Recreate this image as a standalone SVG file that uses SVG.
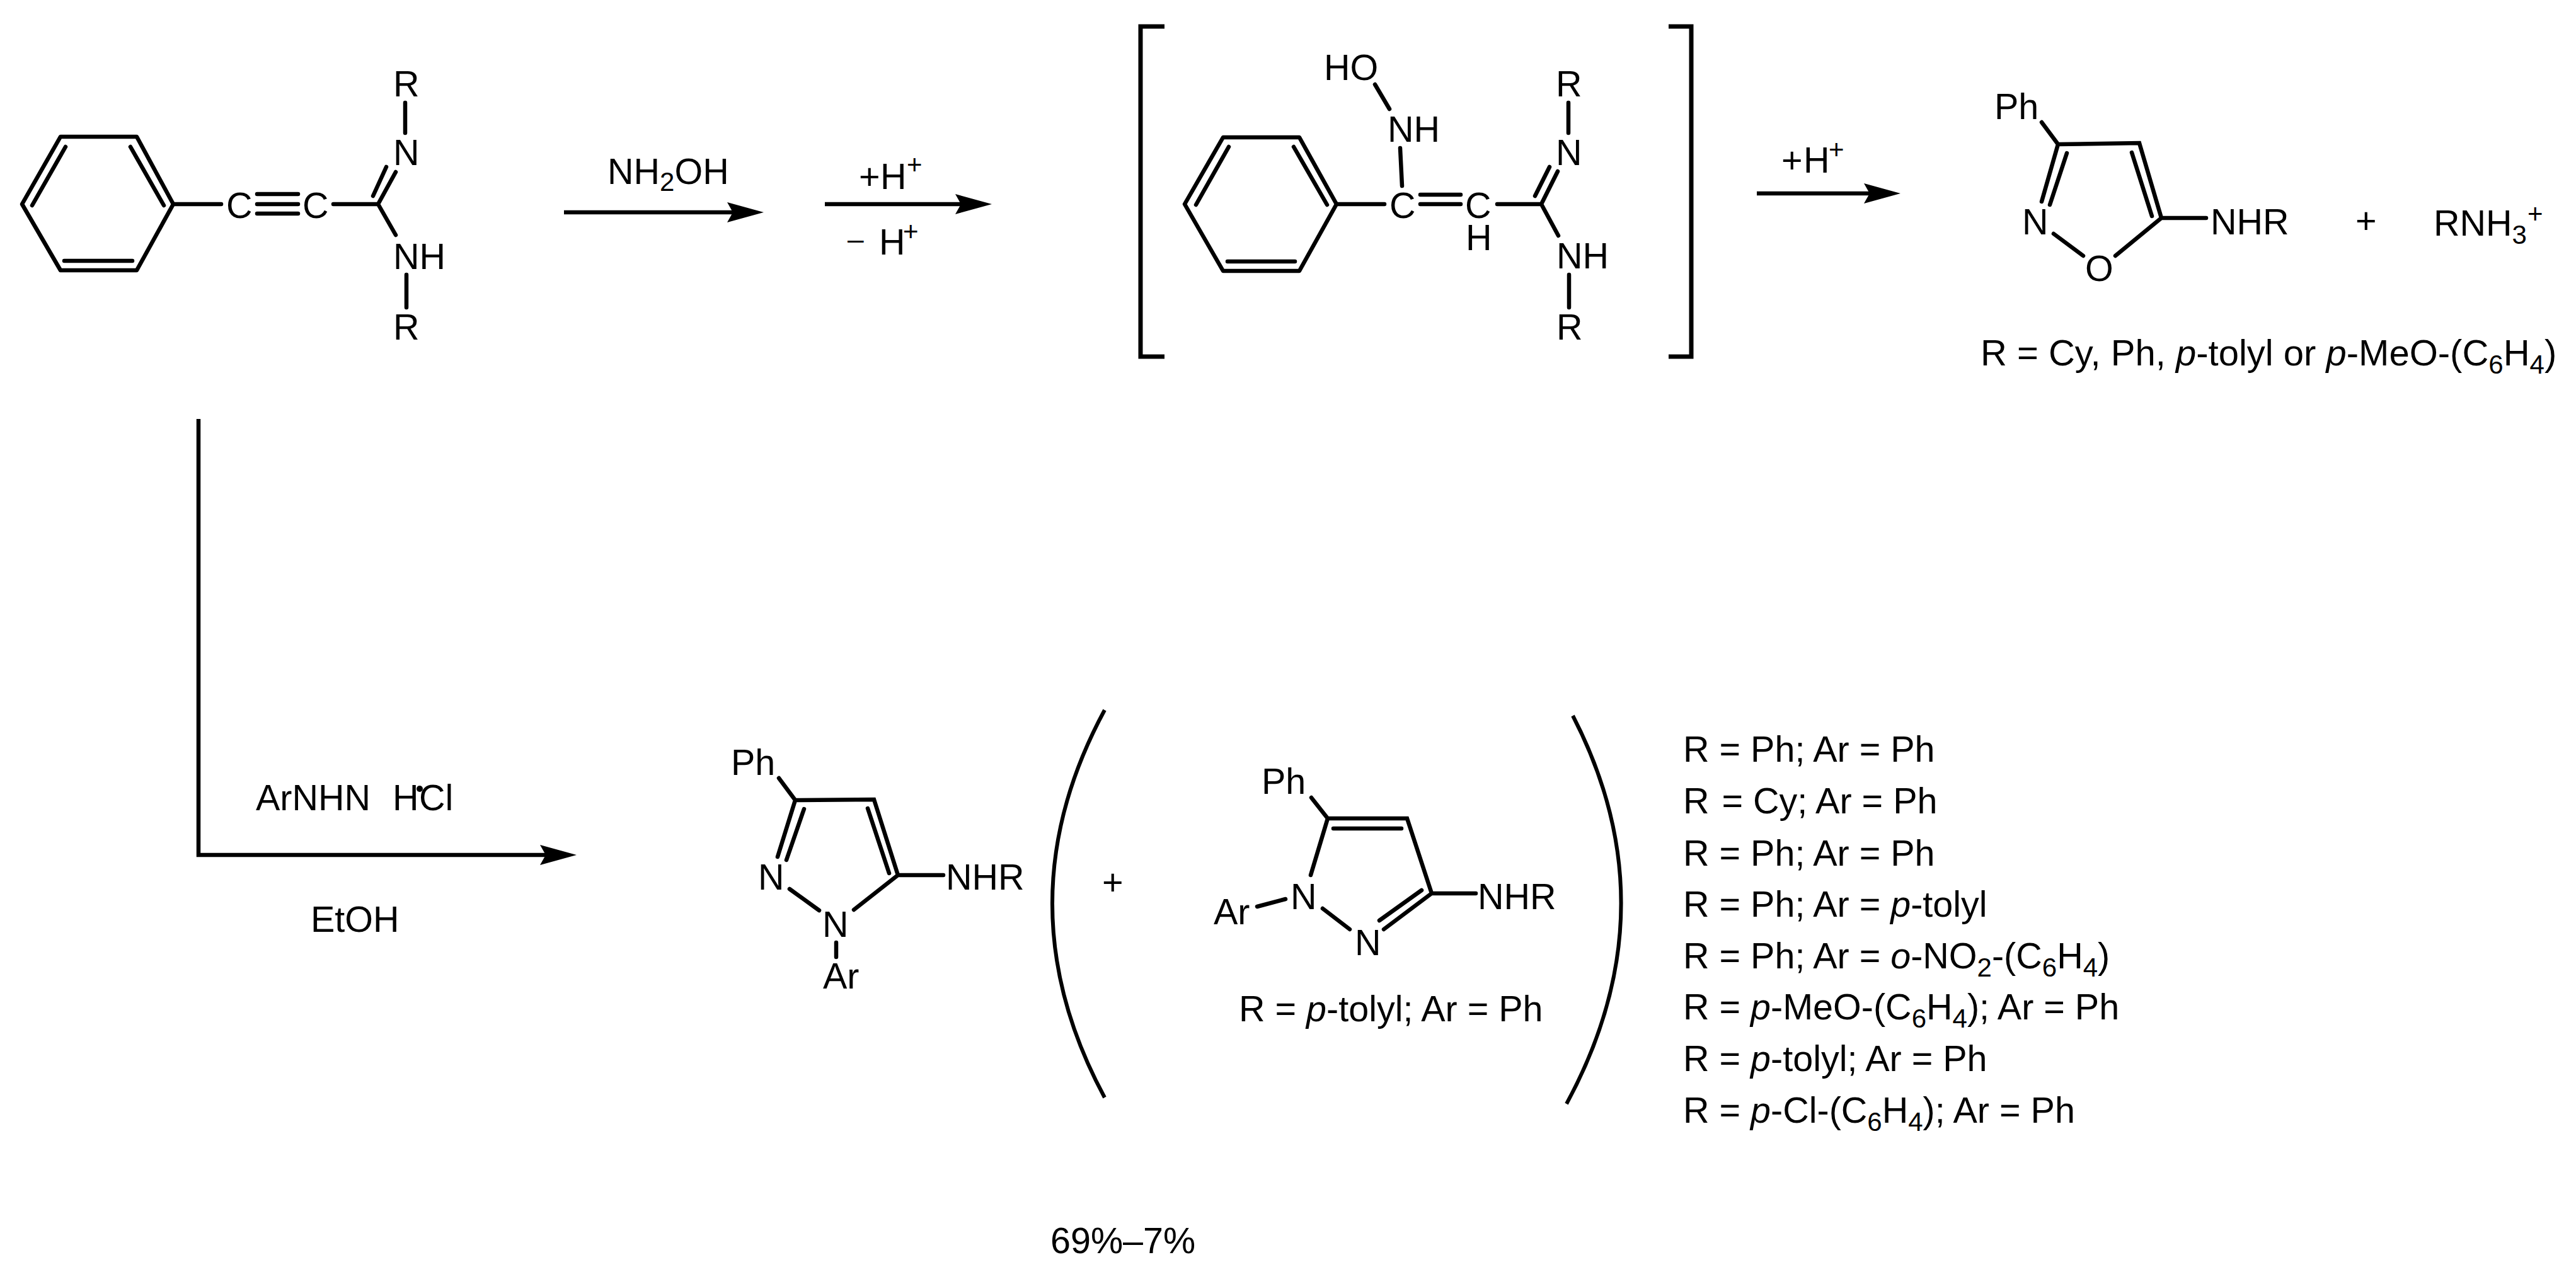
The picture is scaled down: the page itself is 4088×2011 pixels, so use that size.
<svg xmlns="http://www.w3.org/2000/svg" width="4088" height="2011" viewBox="0 0 4088 2011">
<style>
text{font-family:"Liberation Sans",Arial,sans-serif;font-size:57.5px;fill:#000}
.sub{font-size:42px}
.i{font-style:italic}
.b{fill:none;stroke:#000;stroke-width:6.5;stroke-linecap:round;stroke-linejoin:miter}
.br{fill:none;stroke:#000;stroke-width:7;stroke-linecap:butt;stroke-linejoin:miter}
.a{fill:none;stroke:#000;stroke-width:6.5;stroke-linejoin:miter;marker-end:url(#head)}
</style>
<defs>
<marker id="head" markerUnits="userSpaceOnUse" markerWidth="58" markerHeight="32" viewBox="0 0 58 32" refX="9" refY="16" orient="auto"><path d="M0 0L58 16L0 32L9 16Z" fill="#000"/></marker>
</defs>
<rect width="4088" height="2011" fill="#fff"/>
<g id="connectors">
<path class="a" d="M895 337H1163"/>
<path class="a" d="M1309 324H1525"/>
<path class="a" d="M2788 307H2967"/>
<path class="a" d="M315 665V1357H866"/>
</g>
<g id="reactant">
<path class="b" d="M35 324L96 217H217L275 324L217 429H96Z" style="stroke-linejoin:round"/>
<path class="b" d="M104 233L51 326M207 233L260 326M102 414H210M275 324H351M408 308H473M408 324H473M408 339H473M529 324H600M600 324L628 273M592 311L613 265M600 324L628 373M643 163V211M645 436V488"/>
<text x="359" y="346">C</text><text x="480" y="346">C</text>
<text x="624" y="153">R</text><text x="624" y="262">N</text><text x="624" y="427">NH</text><text x="624" y="539">R</text>
</g>
<g id="reagent-nh2oh"><text x="964" y="292">NH<tspan class="sub" dy="11">2</tspan><tspan dy="-11">OH</tspan></text></g>
<g id="reagent-proton">
<text x="1363" y="300">+</text><text x="1397" y="300">H</text><text class="sub" x="1439" y="276">+</text>
<text x="1345" y="395" style="font-size:46px">–</text><text x="1395" y="404">H</text><text class="sub" x="1433" y="382">+</text>
</g>
<g id="intermediate">
<path class="br" d="M1848 42H1810V566H1848M2648 42H2684V566H2648"/>
<path class="b" d="M1880 324L1941 218H2062L2121 324L2062 430H1941Z" style="stroke-linejoin:round"/>
<path class="b" d="M1950 233L1898 325M2053 233L2106 325M1948 415H2055M2121 324H2197M2254 309H2318M2254 324H2318M2376 324H2446M2446 324L2472 272M2436 311L2459 265M2446 324L2473 374M2489 163V211M2490 436V488M2182 134L2205 173M2222 235L2225 295"/>
<text x="2205" y="346">C</text><text x="2325" y="346">C</text><text x="2326" y="397">H</text>
<text x="2469" y="153">R</text><text x="2469" y="262">N</text><text x="2470" y="426">NH</text><text x="2470" y="539">R</text>
<text x="2202" y="225">NH</text><text x="2101" y="127">HO</text>
</g>
<g id="reagent-proton-2"><text x="2827" y="274">+</text><text x="2862" y="274">H</text><text class="sub" x="2902" y="252">+</text></g>
<g id="isoxazole">
<path class="b" d="M3240 194L3266 229L3395 227L3430 346M3383 242L3415 343M3266 229L3240 320M3280 243L3253 325M3259 371L3306 406M3357 406L3430 346L3501 346"/>
<text x="3165" y="189">Ph</text><text x="3209" y="372">N</text><text x="3309" y="446">O</text><text x="3508" y="372">NHR</text>
<text x="3738" y="370">+</text>
<text x="3862" y="374">RNH<tspan class="sub" dy="13">3</tspan></text><text class="sub" x="4011" y="354">+</text>
<text x="3143" y="580" style="font-size:58px">R = Cy, Ph, <tspan class="i">p</tspan>-tolyl or <tspan class="i">p</tspan>-MeO-(C<tspan class="sub" dy="13">6</tspan><tspan dy="-13">H</tspan><tspan class="sub" dy="13">4</tspan><tspan dy="-13">)</tspan></text>
</g>
<g id="reagent-hydrazine">
<text x="406" y="1286">ArNHN</text><text x="623" y="1286">H</text><circle cx="666" cy="1252" r="5"/><text x="665" y="1286">Cl</text>
<text x="493" y="1479">EtOH</text>
</g>
<g id="pyrazole-a">
<path class="b" d="M1236 1235L1262 1270L1387 1269L1425 1389M1377 1283L1411 1386M1262 1270L1234 1360M1276 1284L1248 1365M1253 1411L1300 1445M1355 1444L1425 1389L1497 1389M1327 1496V1519"/>
<text x="1160" y="1230">Ph</text><text x="1203" y="1412">N</text><text x="1305" y="1487">N</text><text x="1501" y="1412">NHR</text><text x="1306" y="1569">Ar</text>
</g>
<g id="mixture">
<path class="br" style="stroke-width:6" d="M1753 1127Q1587 1434 1753 1742M2496 1136Q2654 1442 2486 1752"/>
<text x="1749" y="1420">+</text>
</g>
<g id="pyrazole-b">
<path class="b" d="M2081 1266L2107 1299H2233L2272 1418M2116 1315H2224M2107 1299L2080 1389M1995 1439L2040 1427M2099 1442L2142 1475M2196 1475L2272 1418L2342 1418M2189 1461L2256 1413"/>
<text x="2002" y="1260">Ph</text><text x="2048" y="1443">N</text><text x="1926" y="1467">Ar</text><text x="2150" y="1516">N</text><text x="2345" y="1443">NHR</text>
<text x="1966" y="1621">R = <tspan class="i">p</tspan>-tolyl; Ar = Ph</text>
</g>
<g id="substituents">
<text x="2671" y="1209">R = Ph; Ar = Ph</text>
<text x="2671" y="1291">R <tspan dx="4">=</tspan> Cy; Ar = Ph</text>
<text x="2671" y="1374">R = Ph; Ar = Ph</text>
<text x="2671" y="1455">R = Ph; Ar = <tspan class="i">p</tspan>-tolyl</text>
<text x="2671" y="1537">R = Ph; Ar = <tspan class="i">o</tspan>-NO<tspan class="sub" dy="13">2</tspan><tspan dy="-13">-(C</tspan><tspan class="sub" dy="13">6</tspan><tspan dy="-13">H</tspan><tspan class="sub" dy="13">4</tspan><tspan dy="-13">)</tspan></text>
<text x="2671" y="1618">R = <tspan class="i">p</tspan>-MeO-(C<tspan class="sub" dy="13">6</tspan><tspan dy="-13">H</tspan><tspan class="sub" dy="13">4</tspan><tspan dy="-13">); Ar = Ph</tspan></text>
<text x="2671" y="1700">R = <tspan class="i">p</tspan>-tolyl; Ar = Ph</text>
<text x="2671" y="1782">R = <tspan class="i">p</tspan>-Cl-(C<tspan class="sub" dy="13">6</tspan><tspan dy="-13">H</tspan><tspan class="sub" dy="13">4</tspan><tspan dy="-13">); Ar = Ph</tspan></text>
</g>
<g id="yield"><text x="1667" y="1989">69%–7%</text></g>
</svg>
